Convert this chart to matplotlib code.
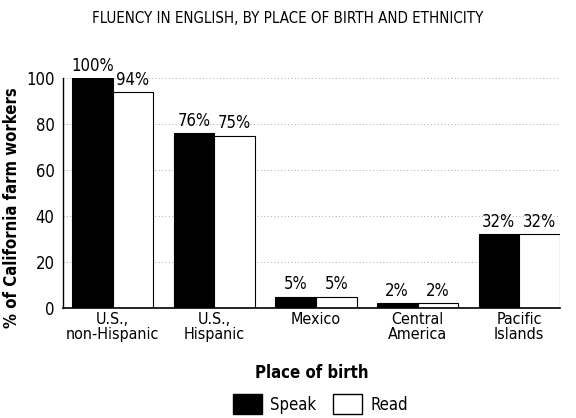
import matplotlib.pyplot as plt
import numpy as np
from matplotlib.patches import Patch

plt.rcParams['font.family'] = ['Liberation Sans Narrow', 'DejaVu Sans']
plt.rcParams['font.stretch'] = 'condensed'

categories = ["U.S.,\nnon-Hispanic", "U.S.,\nHispanic", "Mexico", "Central\nAmerica", "Pacific\nIslands"]
speak = [100, 76, 5, 2, 32]
read = [94, 75, 5, 2, 32]

fig = plt.figure(figsize=(5.76, 4.18), dpi=100)
ax = fig.add_axes([0.109, 0.263, 0.863, 0.550])

x = np.arange(len(categories))
w = 0.4
b1 = ax.bar(x - w / 2, speak, w, color='black', edgecolor='black', linewidth=0.8, label='Speak')
b2 = ax.bar(x + w / 2, read, w, color='white', edgecolor='black', linewidth=0.8, label='Read')

for bars, vals in [(b1, speak), (b2, read)]:
    for rect, v in zip(bars, vals):
        ax.text(rect.get_x() + rect.get_width() / 2, v + 1.5, f"{v}%",
                ha='center', va='bottom', fontsize=12, clip_on=False)

ax.set_xlim(-0.49, 4.40)
ax.set_ylim(0, 100)
ax.set_yticks([0, 20, 40, 60, 80, 100])
ax.tick_params(axis='y', length=0, labelsize=12, pad=6)
ax.tick_params(axis='x', length=0, labelsize=11.5, pad=3)
ax.set_xticks(x)
ax.set_xticklabels(categories, linespacing=0.95)
ax.grid(True, axis='y', linestyle=(0, (1, 2.5)), color='#aaaaaa', linewidth=0.7)
ax.set_axisbelow(True)
for s in ['top', 'right']:
    ax.spines[s].set_visible(False)
ax.spines['left'].set_linewidth(1.0)
ax.spines['bottom'].set_linewidth(1.2)

ax.set_ylabel("% of California farm workers", fontsize=12, fontweight='bold')
ax.yaxis.set_label_coords(-0.084, 0.435)
ax.set_xlabel("Place of birth", fontsize=12, fontweight='bold', labelpad=16)

fig.text(0.5, 0.955, "FLUENCY IN ENGLISH, BY PLACE OF BIRTH AND ETHNICITY",
         ha='center', va='center', fontsize=10.8)

handles = [Patch(facecolor='black', edgecolor='black'),
           Patch(facecolor='white', edgecolor='black')]
fig.legend(handles, ['Speak', 'Read'], loc='center', bbox_to_anchor=(0.556, 0.033),
           ncol=2, frameon=False, fontsize=12, handlelength=1.75, handleheight=1.5,
           columnspacing=1.0, handletextpad=0.5, borderpad=0)

fig.savefig("out.png", dpi=100)
